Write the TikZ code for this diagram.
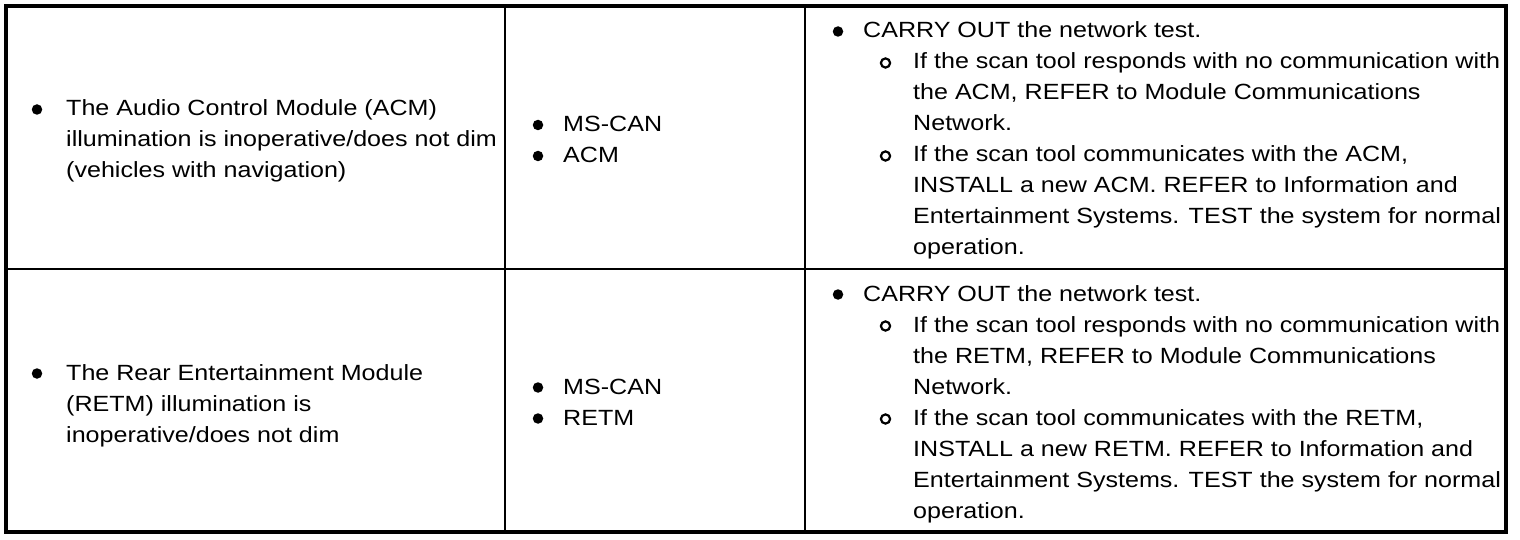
\documentclass[tikz,border=0pt]{standalone}
\usepackage{fontspec}
\setmainfont[FakeStretch=1.14]{Liberation Sans}
\newcommand{\cellpar}[1]{\parbox[t]{700pt}{#1}}
\begin{document}
\begin{tikzpicture}[x=1pt,y=-1pt,
  txt/.style={anchor=base west,inner sep=0pt,font=\fontsize{22}{31}\selectfont},
  fdot/.style={circle,fill=black,inner sep=0pt,minimum size=10.5pt},
  odot/.style={circle,draw=black,line width=2.2pt,inner sep=0pt,minimum size=9.2pt},
  heavy/.style={line width=4pt},
  mid/.style={line width=2pt},
  thin/.style={line width=1.2pt}]
\useasboundingbox (0,0) rectangle (1520,540);
% grid
\coordinate (tl) at (6,6);
\coordinate (br) at (1506,532);
\coordinate (r1) at (6,269);
\coordinate (r2) at (1506,269);
\coordinate (c1t) at (505,6);
\coordinate (c1b) at (505,532);
\coordinate (c2t) at (805,6);
\coordinate (c2b) at (805,532);
\draw[mid] (r1) -- (r2);
\draw[mid] (c1t) -- (c1b);
\draw[thin] (c2t) -- (c2b);
\draw[heavy] (tl) rectangle (br);

% ---- Row 1 ----
\node[fdot] (b11) at (37,109.5) {};
\node[txt] (t11) at (66,116) {\cellpar{The Audio Control Module (ACM)\\illumination is inoperative/does not dim\\(vehicles with navigation)}};

\node[fdot] (b12a) at (538,125) {};
\node[txt] (t12a) at (563,131.5) {\cellpar{MS-CAN}};
\node[fdot] (b12b) at (538,156) {};
\node[txt] (t12b) at (563,162.5) {\cellpar{ACM}};

\node[fdot] (b13) at (838,31.5) {};
\node[txt] (t13) at (863,38) {\cellpar{CARRY OUT the network test.}};
\node[odot] (o13a) at (885.5,63) {};
\node[txt] (t13a) at (913,69) {\cellpar{If the scan tool responds with no communication with\\the ACM, REFER to Module Communications\\Network.}};
\node[odot] (o13b) at (885.5,156) {};
\node[txt] (t13b) at (913,162) {\cellpar{If the scan tool communicates with the ACM,\\INSTALL a new ACM. REFER to Information and\\Entertainment Systems. TEST the system for normal\\operation.}};

% ---- Row 2 ----
\node[fdot] (b21) at (37,373.5) {};
\node[txt] (t21) at (66,380) {\cellpar{The Rear Entertainment Module\\(RETM) illumination is\\inoperative/does not dim}};

\node[fdot] (b22a) at (538,387.5) {};
\node[txt] (t22a) at (563,394) {\cellpar{MS-CAN}};
\node[fdot] (b22b) at (538,418.5) {};
\node[txt] (t22b) at (563,425) {\cellpar{RETM}};

\node[fdot] (b23) at (838,294.5) {};
\node[txt] (t23) at (863,301) {\cellpar{CARRY OUT the network test.}};
\node[odot] (o23a) at (885.5,326) {};
\node[txt] (t23a) at (913,332) {\cellpar{If the scan tool responds with no communication with\\the RETM, REFER to Module Communications\\Network.}};
\node[odot] (o23b) at (885.5,419) {};
\node[txt] (t23b) at (913,425) {\cellpar{If the scan tool communicates with the RETM,\\INSTALL a new RETM. REFER to Information and\\Entertainment Systems. TEST the system for normal\\operation.}};
\end{tikzpicture}
\end{document}
